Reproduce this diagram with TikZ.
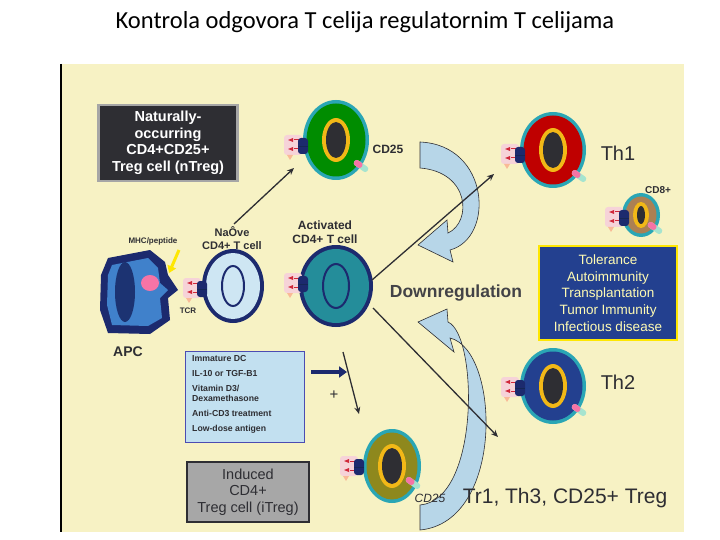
\documentclass[tikz,border=0pt]{standalone}
\usepackage{fontspec}
\setmainfont{Liberation Sans}
\newfontfamily\titlefont{Carlito}
\usetikzlibrary{arrows.meta}
\definecolor{panel}{HTML}{F7F2C4}
\definecolor{navy}{HTML}{1C2A6E}
\definecolor{teal}{HTML}{2AA6B5}
\definecolor{ring}{HTML}{F2B817}
\definecolor{core}{HTML}{2E2E33}
\definecolor{pinkr}{HTML}{F6D3D8}
\definecolor{redm}{HTML}{D0283A}
\definecolor{arrowblue}{HTML}{B7D6E8}
\definecolor{boxblue}{HTML}{23408F}
\definecolor{condblue}{HTML}{C2E0F0}
\tikzset{
  lbl/.style={font=\bfseries\fontsize{12}{13.5}\selectfont,align=center,text=core},
  conn/.style={draw=core,line width=1.3pt,-{Stealth[length=7pt,width=6pt]}},
  curv/.style={draw=core,line width=0.6pt,fill=arrowblue},
  pics/receptor/.style={code={
    \fill[pinkr,rounded corners=3pt] (-14,-11) rectangle (4,9);
    \fill[pinkr!70!orange] (-11,9) -- (-5,9) -- (-8,14) -- cycle;
    \foreach \yy in {-6,3}{\fill[redm] (-10,\yy) -- (-5,\yy-2) -- (-5,\yy+2) -- cycle;
      \draw[redm,line width=1pt] (-4,\yy) -- (2,\yy);}
    \fill[navy,rounded corners=3pt] (0,-8) rectangle (10,8);
    \draw[boxblue!60!black,line width=0.6pt] (0,0) -- (10,0);
  }},
  pics/cd25/.style={code={
    \begin{scope}[rotate=-35]
    \fill[rounded corners=2.5pt,fill=green!25!teal!40] (-8,-3) rectangle (8,3);
    \fill[rounded corners=2.5pt,fill=magenta!40!pink] (-8,-3) rectangle (1,3);
    \end{scope}
  }}
}
\newcommand\mycell[7]{%
  \fill[#5] #1 ellipse[x radius=#2,y radius=#3];
  \fill[#4] #1 ellipse[x radius=#2-3.5,y radius=#3-3.5];
  \fill[ring] #1 ellipse[x radius=#6,y radius=#7];
  \fill[core] #1 ellipse[x radius=#6-4,y radius=#7-4];}
\begin{document}
\begin{tikzpicture}[x=1pt,y=-1pt]
\useasboundingbox (0,0) rectangle (720,540);
\fill[white] (0,0) rectangle (720,540);
\node[font=\titlefont\fontsize{24.5}{28}\selectfont] (title) at (365,22) {Kontrola odgovora T celija regulatornim T celijama};
\fill[panel] (60,64) rectangle (684,532);
\draw[black,line width=1.2pt] (61,64) -- (61,532);

\node[draw=gray!70,line width=2.5pt,fill=core,minimum width=139pt,minimum height=76pt,text=white,font=\bfseries\fontsize{14.5}{16.5}\selectfont,align=center,inner sep=1pt] (ntreg) at (168,143) {Naturally-\\occurring\\CD4+CD25+\\Treg cell (nTreg)};

% curved arrows
\draw[curv] (420,142) .. controls (490,145) and (495,238) .. (450,250) -- (453,262) -- (418,245) -- (447,220) -- (448,233) .. controls (472,222) and (470,172) .. (420,168) -- cycle;
\draw[curv] (420,530) .. controls (505,522) and (500,350) .. (450,338) -- (454,352) -- (418,322) -- (447,309) -- (448,322) .. controls (478,335) and (480,500) .. (420,505) -- cycle;

% APC
\fill[navy] (108,258) -- (150,250) -- (165,262) -- (168,275) -- (178,290) -- (168,298) -- (170,320) -- (150,334) -- (108,333) -- (100,310) -- (101,275) -- cycle;
\fill[cyan!50!blue!80] (112,265) -- (148,258) -- (158,268) -- (160,283) -- (168,290) -- (160,298) -- (162,318) -- (148,326) -- (112,325) -- (107,305) -- (108,275) -- cycle;
\fill[boxblue!80!black] (125,292) ellipse[x radius=10,y radius=30];
\fill[magenta!40!pink] (150,283) ellipse[x radius=9,y radius=8];
\node[lbl,font=\bfseries\fontsize{14}{16}\selectfont] (apc) at (128,352) {APC};
\node[lbl,font=\bfseries\fontsize{8}{9}\selectfont] (mhc) at (153,241) {MHC/peptide};
\draw[yellow!90!orange,line width=3pt,-{Triangle[length=7pt,width=9pt]}] (179,250) -- (169,273);

% naive cell
\fill[navy] (233,286) ellipse[x radius=31,y radius=37];
\fill[condblue!80!white] (233,286) ellipse[x radius=27,y radius=33];
\draw[navy,line width=2pt] (233,286) ellipse[x radius=11,y radius=20];
\coordinate (naive) at (233,286);
\pic at (197,289) {receptor};
\node[lbl,font=\bfseries\fontsize{8}{9}\selectfont] (tcr) at (188,311) {TCR};
\node[lbl,font=\bfseries\fontsize{11}{12.5}\selectfont] (naivel) at (232,238) {NaÔve\\CD4+ T cell};

% activated cell
\fill[navy] (336,286) ellipse[x radius=37,y radius=41];
\fill[teal!85!black] (336,286) ellipse[x radius=33,y radius=37];
\draw[navy,line width=2pt] (336,286) ellipse[x radius=13,y radius=22];
\pic at (298,284) {receptor};
\node[lbl] (actl) at (325,232) {Activated\\CD4+ T cell};
\coordinate (act) at (336,286);

% nTreg cell
\mycell{(336,140)}{33}{40}{green!55!black}{teal}{14}{22}
\pic at (298,146) {receptor};
\pic at (361,166) {cd25};
\node[lbl] (cd25a) at (388,149) {CD25};
\coordinate (ntc) at (294,168);

% Th1
\mycell{(553,150)}{33}{38}{red!75!black}{teal}{14}{22}
\pic at (515,155) {receptor};
\pic at (579,176) {cd25};
\node[font=\fontsize{20}{22}\selectfont,text=core] (th1) at (618,153) {Th1};
\coordinate (th1in) at (494,174);

% CD8
\mycell{(641,215)}{19}{22}{brown!70!gray}{teal}{8}{13}
\pic at (619,218) {receptor};
\pic at (655,228) {cd25};
\node[lbl,font=\bfseries\fontsize{10}{11}\selectfont] (cd8) at (658,190) {CD8+};

% disease box
\node[draw=yellow!90!orange,line width=2.5pt,fill=boxblue,minimum width=138pt,minimum height=94pt,inner sep=1pt,text=yellow!30!white,font=\fontsize{13.5}{16.7}\selectfont,align=center] (dis) at (608,293) {Tolerance\\Autoimmunity\\Transplantation\\Tumor Immunity\\Infectious disease};

% Th2
\mycell{(553,386)}{33}{38}{boxblue}{teal}{14}{22}
\pic at (515,388) {receptor};
\pic at (579,410) {cd25};
\node[font=\fontsize{20}{22}\selectfont,text=core] (th2) at (618,382) {Th2};
\coordinate (th2in) at (498,437);

\node[font=\bfseries\fontsize{17.5}{20}\selectfont,text=core!90] (down) at (456,293) {Downregulation};

% conditions box
\node[draw=gray!60!blue,line width=1pt,fill=condblue,minimum width=119pt,minimum height=91pt,inner sep=0pt] (cond) at (245,397) {};
\node[lbl,font=\bfseries\fontsize{8.7}{10}\selectfont,align=left,anchor=north west,inner sep=0pt] (condt) at (192,355) {Immature DC\\[5pt]IL-10 or TGF-B1\\[5pt]Vitamin D3/\\Dexamethasone\\[5pt]Anti-CD3 treatment\\[5pt]Low-dose antigen};
\coordinate (condr) at (311,372);
\coordinate (condh) at (347,372);
\draw[navy,line width=3.5pt,-{Triangle[length=8pt,width=11pt]}] (condr) -- (condh);
\node[font=\fontsize{15}{15}\selectfont,text=core] (plus) at (334,395) {+};

% iTreg cell
\mycell{(392,466)}{29}{37}{olive!75!yellow!80!black}{teal}{14}{22}
\pic at (354,467) {receptor};
\pic at (413,483) {cd25};
\node[font=\itshape\fontsize{12}{13}\selectfont,text=core] (cd25b) at (430,498) {CD25};
\node[font=\fontsize{21}{24}\selectfont,text=core] (trs) at (565,498) {Tr1, Th3, CD25+ Treg};
\coordinate (itin) at (359,414);

% iTreg box
\node[draw=core,line width=2.5pt,fill=gray!85!black!60,minimum width=122pt,minimum height=60pt,inner sep=1pt,font=\fontsize{14.5}{16.5}\selectfont,align=center,text=core] (itreg) at (248,492) {Induced\\CD4+\\Treg cell (iTreg)};

\draw[conn] (naive) ++(1,-62) -- (ntc);
\draw[conn] (act) ++(36,-6) -- (th1in);
\draw[conn] (act) ++(37,22) -- (th2in);
\draw[conn] (act) ++(7,66) -- (itin);
\end{tikzpicture}
\end{document}
